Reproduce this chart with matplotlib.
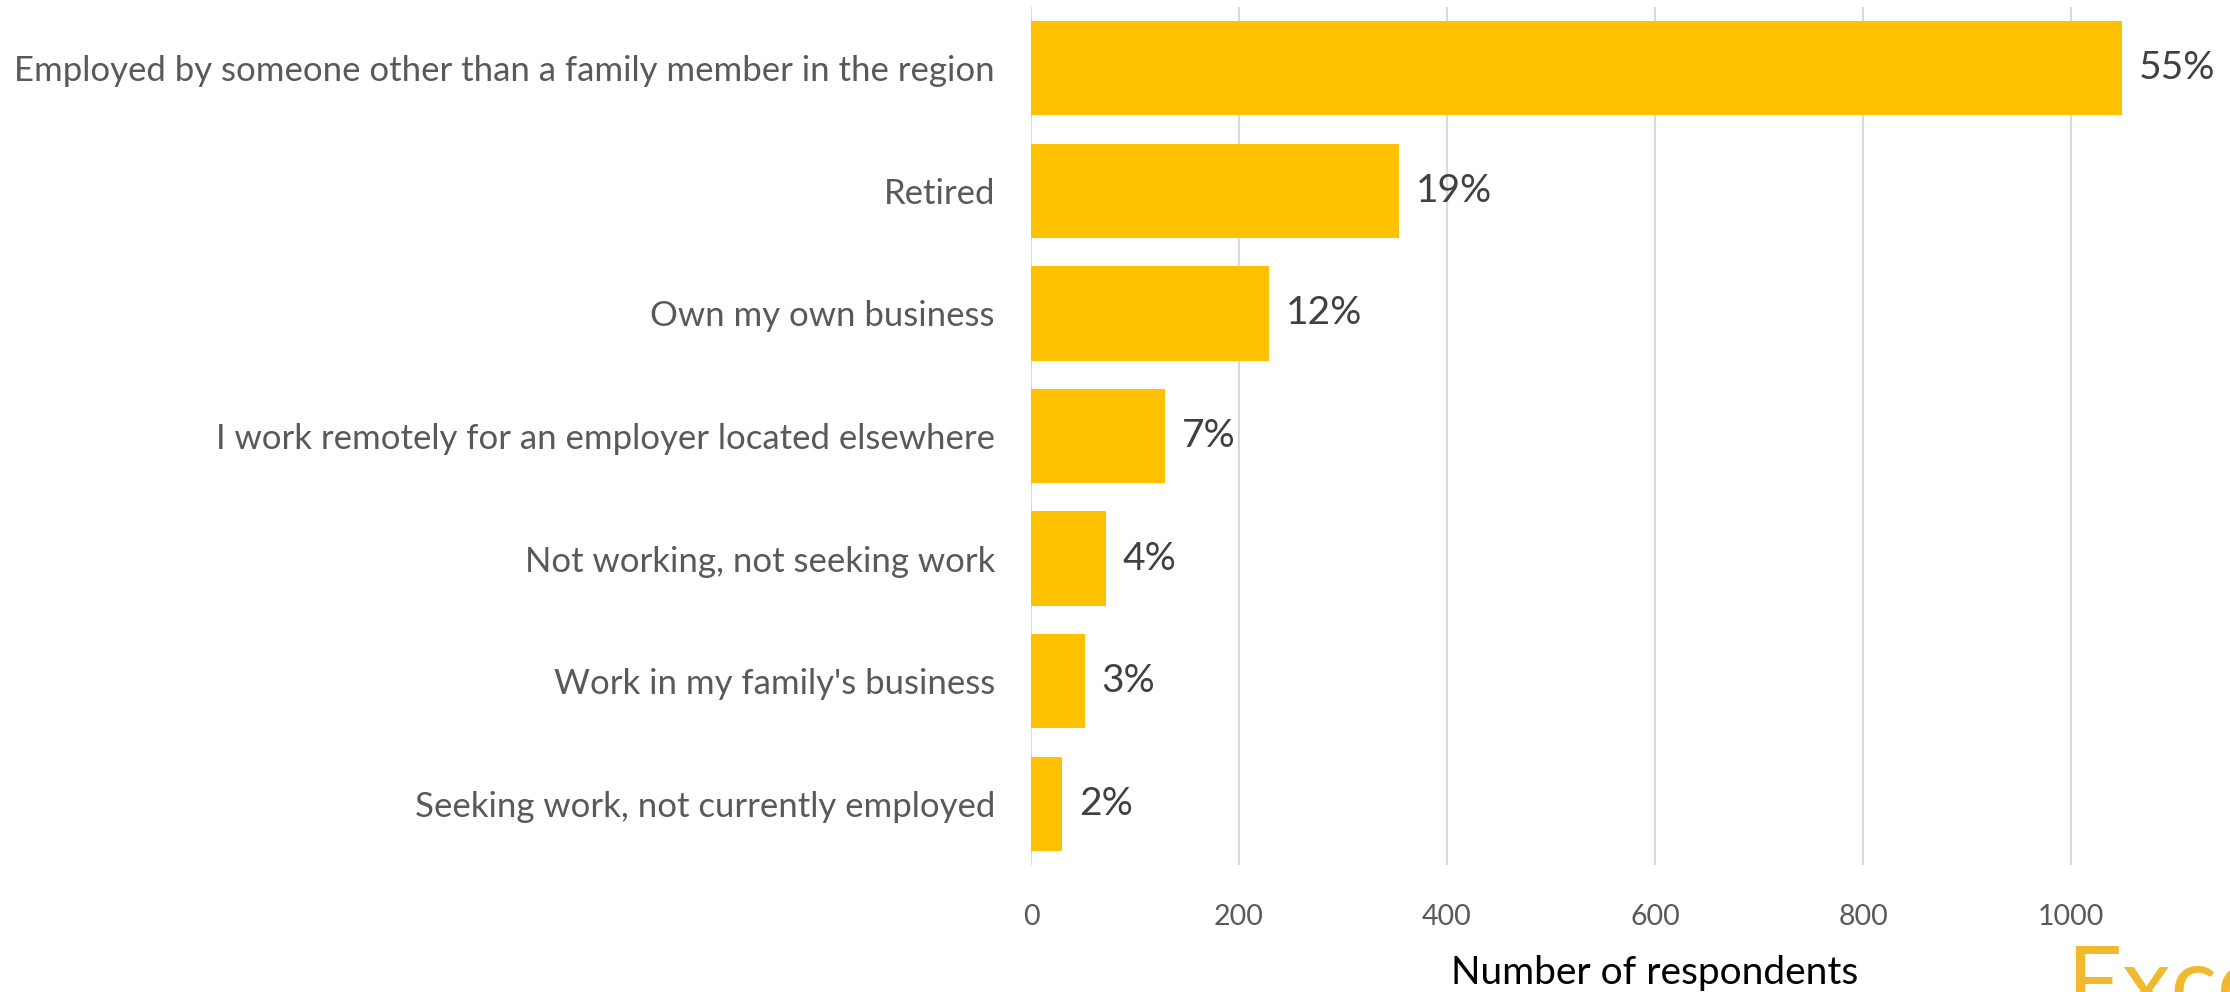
import matplotlib
matplotlib.use("Agg")
import matplotlib.pyplot as plt

categories = [
    "Employed by someone other than a family member in the region",
    "Retired",
    "Own my own business",
    "I work remotely for an employer located elsewhere",
    "Not working, not seeking work",
    "Work in my family's business",
    "Seeking work, not currently employed",
]
respondents = [1049, 354, 229, 129, 72, 52, 30]
pct_labels = ["55%", "19%", "12%", "7%", "4%", "3%", "2%"]
xticks = [0, 200, 400, 600, 800, 1000]

W, H = 2230, 992
fig = plt.figure(figsize=(W / 100, H / 100), dpi=100)
left = 1031 / W
bottom = (H - 865) / H
height = (865 - 7) / H
width = 1248 / W
ax = fig.add_axes([left, bottom, width, height])

font = "Lato"
ypos = list(range(len(categories)))
ax.barh(ypos, respondents, height=0.77, color="#FFC000", zorder=3)
ax.set_ylim(len(categories) - 0.5, -0.5)
ax.set_xlim(0, 1200)

for y, v, lab in zip(ypos, respondents, pct_labels):
    ax.annotate(lab, (v, y), xytext=(12, 0), textcoords="offset points",
                va="center", ha="left", fontsize=28, color="#404040",
                family=font, zorder=4)

ax.set_yticks(ypos)
ax.set_yticklabels(categories, family=font, fontsize=25, color="#595959")
ax.set_xticks(xticks)
ax.set_xticklabels([str(t) for t in xticks], family=font, fontsize=20.5, color="#595959")
ax.tick_params(axis="y", length=0, pad=26)
ax.tick_params(axis="x", length=0, pad=28)

ax.grid(axis="x", color="#D9D9D9", linewidth=1.5, zorder=0)
ax.axvline(1200, color="#D9D9D9", linewidth=1.5, zorder=0)
for s in ["top", "right", "bottom", "left"]:
    ax.spines[s].set_visible(False)

ax.set_xlabel("Number of respondents", family=font, fontsize=28, color="black", labelpad=18)

fig.text(2066 / W, 1 - 945 / H, "Excel", family=font, fontsize=70,
         color="#F0B92E", ha="left", va="top", fontweight="normal")

fig.savefig("out.png", dpi=100)
